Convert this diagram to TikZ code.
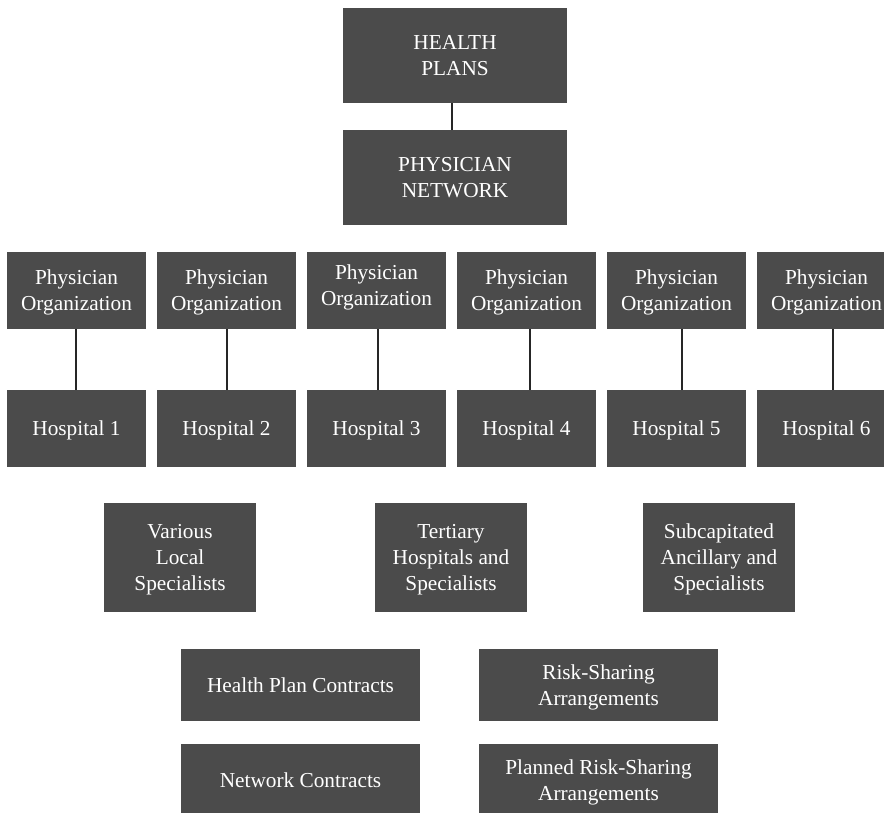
\documentclass[tikz,border=0pt]{standalone}
\usepackage{fontspec}
\setmainfont{LiberationSerif}[Extension=.ttf, UprightFont=*-Regular, BoldFont=*-Bold]
\definecolor{boxgray}{HTML}{4B4B4B}
\begin{document}
\begin{tikzpicture}[x=1pt,y=-1pt,
  box/.style={fill=boxgray, draw=none, text=white, align=center,
    font=\rmfamily\fontsize{21.3}{26}\selectfont, inner sep=0pt, text depth=0pt},
  top/.style={box, minimum width=224pt, minimum height=95pt},
  po/.style={box, minimum width=139pt, minimum height=77pt},
  spec/.style={box, minimum width=152pt, minimum height=109pt},
  wide/.style={box, minimum width=239pt, minimum height=72pt},
  link/.style={draw=black!85, line width=1.2pt}]
\useasboundingbox (0,0) rectangle (884,813);
\clip (0,0) rectangle (884,813);
% top
\node[top] (hp) at (455,55.5) {HEALTH\\PLANS};
\node[top] (pn) at (455,177.5) {PHYSICIAN\\NETWORK};
\draw[link] ([xshift=-3pt]hp.south) -- ([xshift=-3pt]pn.north);
% physician organizations
\node[po] (po1) at (76.5,290.5) {Physician\\Organization};
\node[po] (po2) at (226.5,290.5) {Physician\\Organization};
\node[po, label={[box, yshift=5pt]center:{Physician\\Organization}}] (po3) at (376.5,290.5) {};
\node[po] (po4) at (526.5,290.5) {Physician\\Organization};
\node[po] (po5) at (676.5,290.5) {Physician\\Organization};
\node[po] (po6) at (826.5,290.5) {Physician\\Organization};
% hospitals
\node[po] (h1) at (76.5,428.5) {Hospital 1};
\node[po] (h2) at (226.5,428.5) {Hospital 2};
\node[po] (h3) at (376.5,428.5) {Hospital 3};
\node[po] (h4) at (526.5,428.5) {Hospital 4};
\node[po] (h5) at (676.5,428.5) {Hospital 5};
\node[po] (h6) at (826.5,428.5) {Hospital 6};
\draw[link] ([xshift=-0.5pt]po1.south) -- ([xshift=-0.5pt]h1.north);
\draw[link] ([xshift=0.5pt]po2.south) -- ([xshift=0.5pt]h2.north);
\draw[link] ([xshift=1.5pt]po3.south) -- ([xshift=1.5pt]h3.north);
\draw[link] ([xshift=3.5pt]po4.south) -- ([xshift=3.5pt]h4.north);
\draw[link] ([xshift=5.5pt]po5.south) -- ([xshift=5.5pt]h5.north);
\draw[link] ([xshift=6.5pt]po6.south) -- ([xshift=6.5pt]h6.north);
% specialists
\node[spec] (vls) at (180,557.5) {Various\\Local\\Specialists};
\node[spec] (ths) at (451,557.5) {Tertiary\\Hospitals and\\Specialists};
\node[spec] (sas) at (719,557.5) {Subcapitated\\Ancillary and\\Specialists};
% contracts
\node[wide] (hpc) at (300.5,685) {Health Plan Contracts};
\node[wide] (nc) at (300.5,780) {Network Contracts};
\node[wide] (rsa) at (598.5,685) {Risk-Sharing\\Arrangements};
\node[wide] (prsa) at (598.5,780) {Planned Risk-Sharing\\Arrangements};
\end{tikzpicture}
\end{document}
